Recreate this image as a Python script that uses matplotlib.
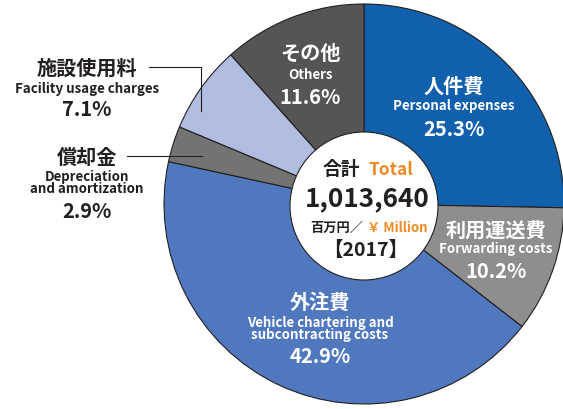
import matplotlib.pyplot as plt
from matplotlib.patches import Circle

plt.rcParams['font.family'] = ['Noto Sans CJK JP', 'DejaVu Sans']

# cost breakdown, clockwise from 12 o'clock
names_ja = ['人件費', '利用運送費', '外注費', '償却金', '施設使用料', 'その他']
names_en = ['Personal expenses', 'Forwarding costs',
            'Vehicle chartering and\nsubcontracting costs',
            'Depreciation\nand amortization', 'Facility usage charges', 'Others']
shares = [25.3, 10.2, 42.9, 2.9, 7.1, 11.6]
colors = ['#1160AD', '#8E8E8F', '#4F78BF', '#737374', '#B1BDE0', '#555556']
total = '1,013,640'
year = '2017'

dark = '#231F20'
orange = '#F08A24'

fig = plt.figure(figsize=(5.63, 4.10), dpi=100)
ax = fig.add_axes([0, 0, 1, 1])

cx, cy, r = 364, 205, 200
ax.pie(shares, colors=colors, startangle=90, counterclock=False,
       radius=r, center=(cx, cy),
       wedgeprops=dict(edgecolor=dark, linewidth=0.8))
ax.add_patch(Circle((cx, cy - 2), 74, facecolor='white', edgecolor=dark, linewidth=0.8, zorder=3))
ax.set_xlim(0, 563)
ax.set_ylim(0, 410)
ax.set_aspect('equal')
ax.axis('off')


def Y(y):
    # convert from top-down pixel rows
    return 410 - y


# label anchors (x, y of japanese line, y of english, y of percent)
spots = [
    (454, 86, 106, 130, 'white'),
    (496, 230, 249, 271, 'white'),
    (320, 302, 329, 357, 'white'),
    (87, 157, 183, 212, dark),
    (87, 68, 89, 110, dark),
    (310, 53, 75, 98, 'white'),
]
for (x, yj, ye, yp, c), ja, en, v in zip(spots, names_ja, names_en, shares):
    ax.text(x, Y(yj), ja, ha='center', va='center', color=c, fontsize=14.5, fontweight='bold', zorder=4)
    ax.text(x, Y(ye), en, ha='center', va='center', color=c, fontsize=9.6, fontweight='bold',
            linespacing=0.9, zorder=4)
    ax.text(x, Y(yp), f'{v}%', ha='center', va='center', color=c, fontsize=14.5, fontweight='bold', zorder=4)

# leader lines for the two thin slices
ax.plot([149, 201, 201], [Y(68), Y(68), Y(112)], color=dark, lw=0.8, zorder=4)
ax.plot([127, 202], [Y(157), Y(157)], color=dark, lw=0.8, zorder=4)

# centre total
ax.text(360, Y(170), '合計', ha='right', va='center', color=dark, fontsize=13.5, fontweight='bold', zorder=4)
ax.text(368, Y(170), 'Total', ha='left', va='center', color=orange, fontsize=12.5, fontweight='bold', zorder=4)
ax.text(367, Y(199), total, ha='center', va='center', color=dark, fontsize=18.8, fontweight='bold', zorder=4)
ax.text(363, Y(228), '百万円／', ha='right', va='center', color=dark, fontsize=9.5, fontweight='bold', zorder=4)
ax.text(367, Y(228), '￥ Million', ha='left', va='center', color=orange, fontsize=9.5, fontweight='bold', zorder=4)
ax.text(366, Y(250), f'【{year}】', ha='center', va='center', color=dark, fontsize=14, fontweight='bold', zorder=4)

fig.savefig('out.png', dpi=100)
